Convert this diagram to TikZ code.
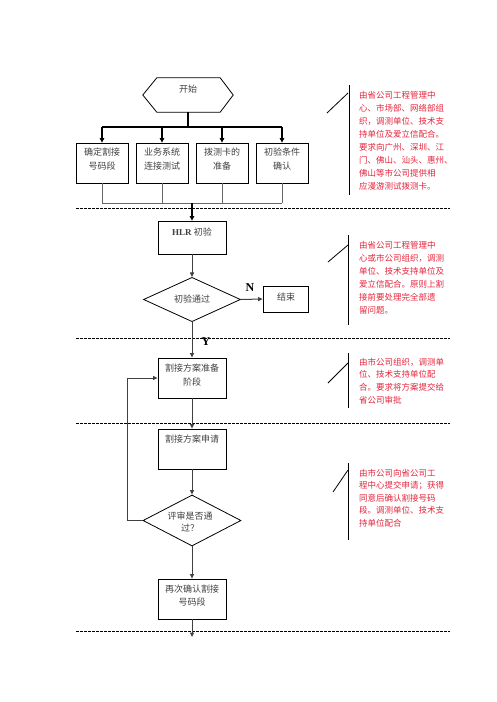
\documentclass[tikz,border=0pt]{standalone}
\usepackage{fontspec}
\setmainfont{Noto Sans CJK SC}
\newfontfamily\serfont{Liberation Serif}
\usetikzlibrary{arrows.meta,shapes.geometric}
\XeTeXinterchartokenstate=1
\XeTeXinterchartoks 1 1 = {\hskip 0pt plus 1em minus 0.12em}
\XeTeXinterchartoks 1 3 = {\hskip 0pt plus 1em minus 0.12em}
\XeTeXinterchartoks 3 1 = {\hskip 0pt plus 1em minus 0.12em}
\definecolor{notered}{RGB}{228,36,60}
\newcommand\jl[1]{\makebox[84pt][s]{#1}}
\begin{document}
\begin{tikzpicture}[x=1pt,y=-1pt,
  box/.style={draw, line width=0.8pt, minimum width=68pt, minimum height=40pt, inner sep=0pt},
  smallbox/.style={box, minimum width=52pt},
  txt/.style={font=\fontsize{9}{14}\selectfont, text=black!75, align=center, inner sep=0pt},
  arr/.style={-{Triangle[length=4.5pt,width=4pt]}, line width=1pt, draw=black!75},
  thickarr/.style={-{Triangle[length=4.5pt,width=4.5pt]}, line width=1.5pt, draw=black},
  grayline/.style={line width=1pt, draw=black!60},
  sepline/.style={line width=0.8pt, dash pattern=on 2.5pt off 1.5pt},
  notetxt/.style={text=notered, align=left, anchor=north west, inner sep=0pt},
  noteline/.style={line width=0.8pt},
  yn/.style={font=\serfont\bfseries\fontsize{12}{12}\selectfont, inner sep=0pt}
]
\useasboundingbox (0,0) rectangle (496,702);

% start hexagon
\node[minimum width=90pt, minimum height=34pt, inner sep=0pt] (start) at (188,95) {};
\draw[line width=0.8pt] (start.west) -- ([xshift=14pt]start.north west) -- ([xshift=-13pt]start.north east)
  -- (start.east) -- ([xshift=-13pt]start.south east) -- ([xshift=14pt]start.south west) -- cycle;
\node[txt] (startt) at (188,89) {开始};

% top bus
\coordinate (bus) at (188,127);
\coordinate (busl) at (102,127);
\coordinate (busr) at (282,127);
\draw[line width=1.6pt] (start.south) -- (bus);
\draw[line width=1.4pt] (busl) -- (busr);

% four boxes
\node[smallbox] (b1) at (102,163) {};
\node[smallbox] (b2) at (162,163) {};
\node[smallbox] (b3) at (222,163) {};
\node[smallbox] (b4) at (282,163) {};
\node[txt] (t1) at (102,159.5) {确定割接\\号码段};
\node[txt] (t2) at (162,159.5) {业务系统\\连接测试};
\node[txt] (t3) at (222,159.5) {拨测卡的\\准备};
\node[txt] (t4) at (282,159.5) {初验条件\\确认};
\foreach \b/\x in {b1/102,b2/162,b3/222,b4/282}{
  \draw[thickarr] (\x,127) -- (\b.north);
}

% lower bus
\coordinate (lbl) at (102,203);
\coordinate (lbr) at (282,203);
\coordinate (lbm) at (192,203);
\foreach \b in {b1,b2,b3,b4}{
  \draw[grayline] (\b.south) -- (\b.south |- lbl);
}
\draw[grayline] (lbl) -- (lbr);

% HLR box
\node[box, minimum height=33pt] (hlr) at (192,237.5) {};
\node[txt] (hlrt) at (192,232) {{\serfont\bfseries HLR} 初验};
\draw[thickarr] (lbm) -- (hlr.north);

% separators
\coordinate (s1l) at (76,208); \coordinate (s1r) at (450,208);
\coordinate (s2l) at (76,338); \coordinate (s2r) at (450,338);
\coordinate (s3l) at (76,423); \coordinate (s3r) at (450,423);
\coordinate (s4l) at (76,631); \coordinate (s4r) at (450,631);
\draw[sepline] (s1l) -- (s1r);
\draw[sepline] (s2l) -- (s2r);
\draw[sepline] (s3l) -- (s3r);
\draw[sepline] (s4l) -- (s4r);

% decision 1
\node[diamond, draw, line width=0.8pt, minimum width=97pt, minimum height=39pt, inner sep=0pt, txt, draw=black] (d1) at (192,299.5) {初验通过};
\draw[arr] (hlr.south) -- (d1.north);
\node[box, minimum width=45pt, minimum height=26pt] (end) at (285.5,299) {};
\node[txt] (endt) at (286,297.5) {结束};
\draw[arr] (d1.east) -- (end.west);
\node[yn] (nlab) at (250,288) {N};
\node[yn] (ylab) at (206,342) {Y};

% plan stage
\node[box] (p1) at (192,378) {};
\node[txt] (p1t) at (192,375) {割接方案准备\\阶段};
\draw[arr] (d1.south) -- (p1.north);

\node[box] (p2) at (192,449) {};
\node[txt] (p2t) at (192,439) {割接方案申请};
\draw[arr] (p1.south) -- (p2.north);

\node[diamond, draw, line width=0.8pt, minimum width=98pt, minimum height=51pt, inner sep=0pt, draw=black] (d2) at (192,520.5) {};
\node[txt, font=\fontsize{9}{12.5}\selectfont] (d2t) at (190,522) {评审是否通\\过？};
\draw[arr] (p2.south) -- (d2.north);
\coordinate (loopc) at (127,520.5);
\draw[arr] (d2.west) -- (loopc) |- (p1.west);

\node[box] (p3) at (192,599) {};
\node[txt, font=\fontsize{9}{13}\selectfont] (p3t) at (192,595.5) {再次确认割接\\号码段};
\draw[arr] (d2.south) -- (p3.north);
\coordinate (endc) at (192,637);
\draw[arr] (p3.south) -- (endc);

% notes
\coordinate (n1a) at (349,85); \coordinate (n1b) at (349,195);
\coordinate (n1c) at (327,113); \coordinate (n1d) at (348,93);
\draw[noteline] (n1a) -- (n1b); \draw[noteline] (n1c) -- (n1d);
\node[notetxt, font=\fontsize{8.5}{13}\selectfont] (note1) at (359,90.7) {\jl{由省公司工程管理中}\\\jl{心、市场部、网络部组}\\\jl{织，调测单位、技术支}\\\jl{持单位及爱立信配合。}\\\jl{要求向广州、深圳、江}\\\jl{门、佛山、汕头、惠州、}\\\jl{佛山等市公司提供相}\\应漫游测试拨测卡。};

\coordinate (n2a) at (348,235); \coordinate (n2b) at (348,325);
\coordinate (n2c) at (328,262); \coordinate (n2d) at (348,245);
\draw[noteline] (n2a) -- (n2b); \draw[noteline] (n2c) -- (n2d);
\node[notetxt, font=\fontsize{8.5}{13}\selectfont] (note2) at (359,240.7) {\jl{由省公司工程管理中}\\\jl{心或市公司组织，调测}\\\jl{单位、技术支持单位及}\\\jl{爱立信配合。原则上割}\\\jl{接前要处理完全部遗}\\留问题。};

\coordinate (n3a) at (348,353); \coordinate (n3b) at (348,408);
\coordinate (n3c) at (328,383); \coordinate (n3d) at (348,363);
\draw[noteline] (n3a) -- (n3b); \draw[noteline] (n3c) -- (n3d);
\node[notetxt, font=\fontsize{8.5}{12.7}\selectfont] (note3) at (359,357.7) {\jl{由市公司组织，调测单}\\\jl{位、技术支持单位配}\\\jl{合。要求将方案提交给}\\省公司审批};

\coordinate (n4a) at (348,463); \coordinate (n4b) at (348,540);
\coordinate (n4c) at (333,492); \coordinate (n4d) at (348,470);
\draw[noteline] (n4a) -- (n4b); \draw[noteline] (n4c) -- (n4d);
\node[notetxt, font=\fontsize{8.5}{12.5}\selectfont] (note4) at (359,468.7) {\jl{由市公司向省公司工}\\\jl{程中心提交申请；获得}\\\jl{同意后确认割接号码}\\\jl{段。调测单位、技术支}\\持单位配合};
\end{tikzpicture}
\end{document}
